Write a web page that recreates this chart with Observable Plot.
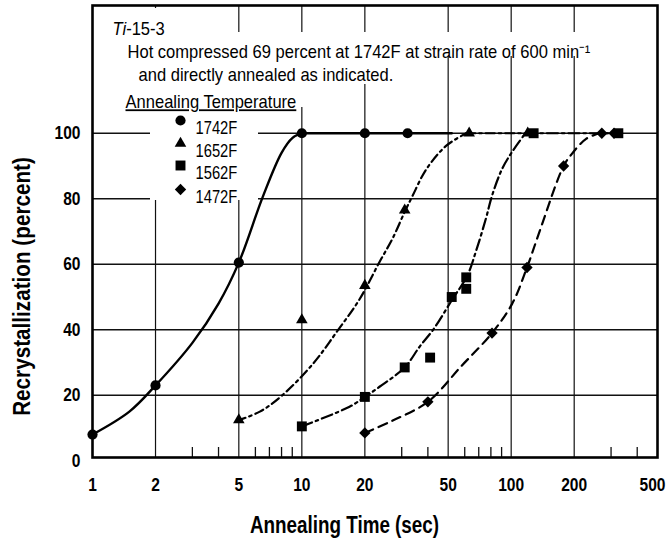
<!DOCTYPE html>
<html><head><meta charset="utf-8">
<script src="https://cdn.jsdelivr.net/npm/d3@7"></script>
<script src="https://cdn.jsdelivr.net/npm/@observablehq/plot@0.6"></script>
<style>
body{margin:0;background:#fff}
#chart svg{display:block;background:#fff}
</style>
</head><body><div id="chart"></div>
<script>
// ---------- data ----------
const seriesNames = ["1742F", "1652F", "1562F", "1472F"];

// measured points (time in sec, recrystallization in percent)
const t1742 = [1, 2, 5, 10, 20, 32];
const v1742 = [8, 23, 60.5, 100, 100, 100];
const t1652 = [5, 10, 20, 31, 63, 120];
const v1652 = [12.5, 43, 53.5, 76.5, 100, 100];
const t1562 = [10, 20, 31, 41, 52, 61, 61, 128, 325];
const v1562 = [10.5, 19.5, 28.5, 31.5, 50, 52.5, 56, 100, 100];
const t1472 = [20, 40, 81, 119, 178, 271, 310];
const v1472 = [8.5, 18, 39, 59, 90, 100, 100];

// drawn curves
const c1742t = [1, 1.5, 2, 3, 4, 5, 6.5, 8, 9, 10, 52];
const c1742v = [8, 15, 23, 36, 48, 60.5, 80.5, 94, 98.5, 100, 100];
const c1652t = [4.9, 6.3, 8, 11.3, 14.7, 18.9, 23.5, 27.1, 31, 33.8, 39.4, 49, 61, 120];
const c1652v = [12.2, 15, 19.8, 29.6, 39.4, 49.4, 60.7, 67.8, 76, 80.9, 89.1, 96.2, 100, 100];
const c1562t = [10, 16.9, 20, 23.5, 31, 36.5, 42.7, 52.5, 61.7, 68, 75.7, 81, 90.5, 101, 117, 330];
const c1562v = [10.5, 16.5, 19.5, 22.6, 28.5, 34.8, 40.3, 49.4, 56.5, 64.1, 73.9, 80.9, 89.1, 94.3, 100, 100];
const c1472t = [20, 27, 40, 58, 81, 101, 119, 138, 178, 195, 228, 265, 310];
const c1472v = [8.5, 12.2, 18, 29, 39, 47.9, 59, 70.8, 90, 93.7, 98.3, 100, 100];

// axes
const xTickLabels = [1, 2, 5, 10, 20, 50, 100, 200, 500];
const xGrid = [2, 5, 10, 20, 50, 100, 200];
const xMinor = [3, 4, 6, 7, 8, 9, 30, 40, 60, 70, 80, 90, 300, 400];
const yTickLabels = [0, 20, 40, 60, 80, 100];
const yGrid = [20, 40, 60, 80, 100];

const titleLines = ["Hot compressed 69 percent at 1742F at strain rate of 600 min\u207B\u00B9",
                    "and directly annealed as indicated."];
const legendTitle = "Annealing Temperature";
const xTitle = "Annealing Time (sec)";
const yTitle = "Recrystallization (percent)";

// ---------- helpers ----------
const rows = (t, v) => t.map((d, i) => ({t: d, v: v[i]}));
const FONT = '"Liberation Sans",Arial,sans-serif';
const SX = 0.82;          // horizontal squeeze -> condensed look
const SXW = 0.92;         // squeeze for the wordy annotation lines
const SXY = 0.9;          // squeeze for the y title

function textWidth(str, font) {
  const c = document.createElement("canvas").getContext("2d");
  c.font = font; return c.measureText(str).width;
}

const W = 666, H = 546;
const mL = 92, mR = 9, mT = 5, mB = 89;
const frameH = H - mT - mB;

const styles = [
  {name: seriesNames[0], pts: rows(t1742, v1742), fit: rows(c1742t, c1742v), symbol: "circle", r: 5.1, dash: null, sw: 2.4},
  {name: seriesNames[1], pts: rows(t1652, v1652), fit: rows(c1652t, c1652v), symbol: "triangle", r: 4.3, dash: "9,4,2.5,4", sw: 2.2},
  {name: seriesNames[2], pts: rows(t1562, v1562), fit: rows(c1562t, c1562v), symbol: "square", r: 5.6, dash: "11,4,2.5,4", sw: 2.2},
  {name: seriesNames[3], pts: rows(t1472, v1472), fit: rows(c1472t, c1472v), symbol: d3.symbolDiamond2, r: 5.1, dash: "9,6", sw: 2.2}
];

// white knock-out boxes behind the annotation block (layout only)
const knockouts = [[105, 8, 60, 24], [118, 32, 478, 24], [130, 56, 272, 28], [118, 84, 186, 23], [150, 107, 108, 93]];
function knockoutBoxes() {
  const g = document.createElementNS("http://www.w3.org/2000/svg", "g");
  for (const [x, y, w, h] of knockouts) {
    const r = document.createElementNS("http://www.w3.org/2000/svg", "rect");
    r.setAttribute("x", x); r.setAttribute("y", y);
    r.setAttribute("width", w); r.setAttribute("height", h);
    r.setAttribute("fill", "white");
    g.appendChild(r);
  }
  return g;
}

const tiW = textWidth("Ti", `italic 18px ${FONT}`) * SXW;
const txt = {fill: "black", fontFamily: FONT, textAnchor: "start", frameAnchor: "top-left"};

const marks = [
  Plot.ruleX(xGrid, {stroke: "#111", strokeWidth: 1.2}),
  Plot.ruleY(yGrid, {stroke: "#111", strokeWidth: 1.4}),
  Plot.tickX(xMinor, {x: d => d, stroke: "#111", strokeWidth: 1.3, insetTop: frameH - 10}),
  knockoutBoxes,
  Plot.text(["Ti"], {text: d => d, dx: 20, dy: 16.5, fontSize: 18, fontStyle: "italic", ...txt}),
  Plot.text(["-15-3"], {text: d => d, dx: 20 + tiW, dy: 16.5, fontSize: 18, ...txt}),
  Plot.text([titleLines[0]], {text: d => d, dx: 35, dy: 40, fontSize: 18, ...txt}),
  Plot.text([titleLines[1]], {text: d => d, dx: 46, dy: 63, fontSize: 18, ...txt}),
  Plot.text([legendTitle], {text: d => d, dx: 33, dy: 90, fontSize: 18, ...txt}),
];

// curves: rising part smooth, saturated part straight
for (const s of styles) {
  const k = s.fit.findIndex(d => d.v >= 100);
  const rise = s.fit.slice(0, k + 1), flat = s.fit.slice(k);
  const o = {x: "t", y: "v", stroke: "black", strokeWidth: s.sw, strokeDasharray: s.dash || undefined};
  marks.push(Plot.line(rise, {...o, curve: "catmull-rom"}));
  marks.push(Plot.line(flat, {...o, curve: "linear"}));
}
for (const s of styles) {
  marks.push(Plot.dot(s.pts, {x: "t", y: "v", symbol: s.symbol, r: s.r, fill: "black", stroke: "none"}));
}
// legend entries
const legendDy = [115, 138, 160, 184];
styles.forEach((s, i) => {
  marks.push(Plot.dot([s.name], {frameAnchor: "top-left", dx: 88, dy: legendDy[i], symbol: s.symbol, r: s.r, fill: "black"}));
  marks.push(Plot.text([s.name], {text: d => d, dx: 103, dy: legendDy[i] + 1, fontSize: 18, ...txt}));
});

const tickTxt = {x: d => d, text: d => String(d), frameAnchor: "bottom", dy: 33, fontSize: 19, fontWeight: "bold", fontFamily: FONT, fill: "black"};
marks.push(
  Plot.frame({stroke: "black", strokeWidth: 2.6}),
  Plot.text(xTickLabels.slice(0, -1), tickTxt),
  Plot.text(xTickLabels.slice(-1), {...tickTxt, textAnchor: "end", dx: 8}),
  Plot.axisY({ticks: yTickLabels, tickSize: 0, tickPadding: 12, tickFormat: d => String(d), label: null, fontSize: 19, fontWeight: "bold", fontFamily: FONT}),
  Plot.text([xTitle], {text: d => d, frameAnchor: "bottom", textAnchor: "middle", dx: -30.5, dy: 75, fontSize: 23, fontWeight: "bold", fontFamily: FONT, fill: "black"}),
  Plot.text([yTitle], {text: d => d, frameAnchor: "left", textAnchor: "middle", dx: -70, dy: 55, rotate: -90, fontSize: 23, fontWeight: "bold", fontFamily: FONT, fill: "black"})
);

const plot = Plot.plot({
  width: W, height: H,
  marginLeft: mL, marginRight: mR, marginTop: mT, marginBottom: mB,
  style: {fontFamily: FONT, color: "black", background: "white", overflow: "visible"},
  x: {type: "log", domain: [1, 500], axis: null},
  y: {domain: [1, 139]},
  marks
});

// condensed look: squeeze every text horizontally about its own anchor
const wordy = new Set([...titleLines, legendTitle, "Ti", "-15-3"]);
d3.select(plot).selectAll("text").each(function() {
  const el = this;
  const c = el.textContent;
  const s = wordy.has(c) ? SXW : c === yTitle ? SXY : SX;
  let tr = el.getAttribute("transform") || "";
  const x = el.getAttribute("x"), y = el.getAttribute("y");
  const num = v => v != null && /^-?[\d.]+$/.test(v);
  if (num(x) || num(y)) {
    tr += ` translate(${num(x) ? x : 0},${num(y) ? y : 0})`;
    if (num(x)) el.removeAttribute("x");
    if (num(y)) el.removeAttribute("y");
  }
  el.setAttribute("transform", `${tr} scale(${s},1)`);
  if (c === legendTitle) el.style.textDecoration = "underline";
});

document.getElementById("chart").appendChild(plot);
</script>
</body></html>
